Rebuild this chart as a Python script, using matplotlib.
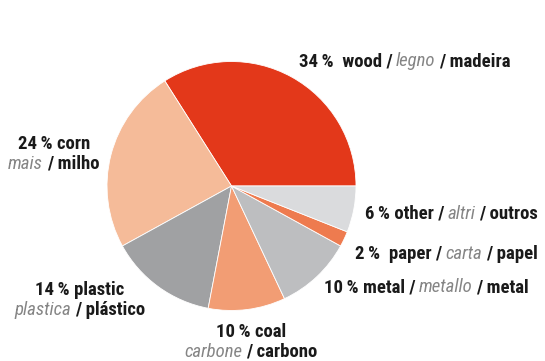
import matplotlib

matplotlib.use("Agg")
import matplotlib.pyplot as plt
from matplotlib import font_manager
from matplotlib.offsetbox import AnnotationBbox, HPacker, TextArea, VPacker

# slice data (counterclockwise from 3 o'clock)
shares = [34, 24, 14, 10, 10, 2, 6]
colors = ["#e3381a", "#f5bb99", "#a0a1a3", "#f29d74", "#bdbec0", "#ee7b4f", "#dadbdd"]
pct_labels = ["34\u2009%", "24\u2009%", "14\u2009%", "10\u2009%", "10\u2009%", "2\u2009%", "6\u2009%"]
english = ["wood", "corn", "plastic", "coal", "metal", "paper", "other"]
italian = ["legno", "mais", "plastica", "carbone", "metallo", "carta", "altri"]
portuguese = ["madeira", "milho", "plástico", "carbono", "metal", "papel", "outros"]

# narrowest family that is actually installed
installed = {f.name for f in font_manager.fontManager.ttflist}
for name in ["Roboto Condensed", "Liberation Sans Narrow", "Open Sans Condensed",
             "DejaVu Sans Condensed", "Roboto"]:
    if name in installed:
        FONT = [name, "DejaVu Sans"]
        break
else:
    FONT = ["DejaVu Sans"]

DARK = "#1a1a1a"
GREY = "#858585"
W, H = 545, 361
SIZE = 13.5


def txt(s, grey=False):
    props = dict(family=FONT, size=SIZE, color=GREY if grey else DARK,
                 weight="normal" if grey else "bold",
                 style="italic" if grey else "normal")
    return TextArea(s, textprops=props)


def italic_then_bold(i):
    return HPacker(children=[txt(italian[i], grey=True), txt("/ " + portuguese[i])],
                   align="baseline", pad=0, sep=3)


def one_line(i, gap=" "):
    return HPacker(
        children=[txt(pct_labels[i] + gap + english[i] + " /"), italic_then_bold(i)],
        align="baseline", pad=0, sep=2,
    )


def two_lines(i):
    top = txt(pct_labels[i] + " " + english[i])
    return VPacker(children=[top, italic_then_bold(i)], align="center", pad=0, sep=1)


def place(ax, box, x, y, ha):
    ab = AnnotationBbox(box, (x, H - y), xycoords="data", frameon=False,
                        box_alignment=(ha, 0.5), pad=0)
    ax.add_artist(ab)


fig = plt.figure(figsize=(W / 100, H / 100), dpi=100)
ax = fig.add_axes([0, 0, 1, 1])

ax.pie(
    shares,
    colors=colors,
    startangle=0,
    counterclock=True,
    center=(231.5, H - 186),
    radius=124.5,
    wedgeprops=dict(edgecolor="white", linewidth=0.6),
)
ax.set_xlim(0, W)
ax.set_ylim(0, H)
ax.set_aspect("equal")
ax.axis("off")

place(ax, one_line(0, gap="  "), 299, 61, 0)
place(ax, two_lines(1), 54, 154, 0.5)
place(ax, two_lines(2), 80, 300, 0.5)
place(ax, two_lines(3), 251, 342, 0.5)
place(ax, one_line(4), 324, 287, 0)
place(ax, one_line(5, gap="  "), 355, 254, 0)
place(ax, one_line(6), 365, 214, 0)

fig.savefig("out.png", dpi=100)
